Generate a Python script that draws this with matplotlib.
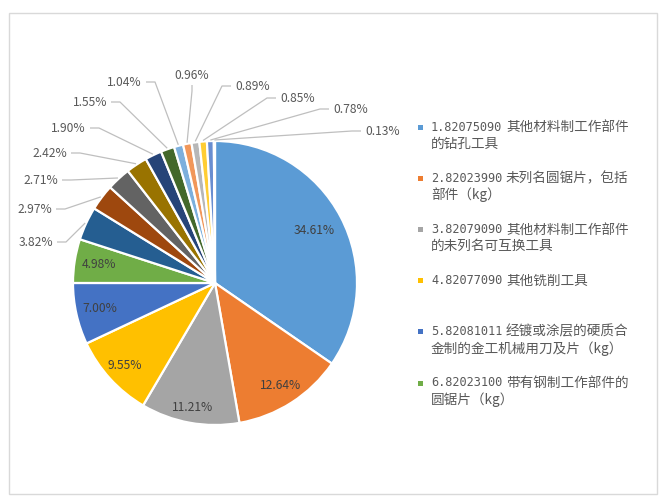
import matplotlib
matplotlib.use("Agg")
import matplotlib.pyplot as plt
import numpy as np
from matplotlib.patches import Rectangle

# ---------------- data ----------------
shares = [34.61, 12.64, 11.21, 9.55, 7.00, 4.98, 3.82, 2.97, 2.71, 2.42,
          1.90, 1.55, 1.04, 0.96, 0.89, 0.85, 0.78, 0.13]
pct_labels = [f"{v:.2f}%" for v in shares]
legend_labels = [
    "1.82075090 其他材料制工作部件\n的钻孔工具",
    "2.82023990 未列名圆锯片，包括\n部件（kg）",
    "3.82079090 其他材料制工作部件\n的未列名可互换工具",
    "4.82077090 其他铣削工具",
    "5.82081011 经镀或涂层的硬质合\n金制的金工机械用刀及片（kg）",
    "6.82023100 带有钢制工作部件的\n圆锯片（kg）",
]
colors = ["#5B9BD5", "#ED7D31", "#A5A5A5", "#FFC000", "#4472C4", "#70AD47",
          "#255E91", "#9E480E", "#636363", "#997300", "#264478", "#43682B",
          "#7CAFDD", "#F1975A", "#B7B7B7", "#FFCD33", "#698ED0", "#8CC168"]

# ---------------- layout (pixels, y from top) ----------------
W, H = 668, 501
CX, CY, R = 215, 283, 142
inside_r = [0.79, 0.86, 0.89, 0.86, 0.83, 0.83]
# anchor of outside labels: (x, y_from_top, side)
outside_pos = [(53, 242, "L"), (52, 209, "L"), (58, 180, "L"), (67, 153, "L"),
               (86, 128, "L"), (107, 102, "L"), (142, 82, "L"), (192, 75, "C"),
               (235, 86, "R"), (280, 98, "R"), (333, 109, "R"), (365, 131, "R")]

FONT = ["Noto Sans CJK SC", "DejaVu Sans"]
MONO = ["DejaVu Sans Mono", "Noto Sans CJK SC"]
TXT = "#595959"
LINE = "#BFBFBF"

fig = plt.figure(figsize=(6.68, 5.01), dpi=100)
fig.patch.set_facecolor("white")
ax = fig.add_axes([0, 0, 1, 1])

def Y(y):
    return H - y

wedges, _ = ax.pie(shares, colors=colors, startangle=90, counterclock=False,
                   center=(CX, Y(CY)), radius=R,
                   wedgeprops=dict(edgecolor="white", linewidth=1.6))
ax.set_xlim(0, W)
ax.set_ylim(0, H)
ax.set_aspect("equal")
ax.axis("off")

mids = [np.deg2rad((w.theta1 + w.theta2) / 2) for w in wedges]

# inside labels
for i, r in enumerate(inside_r):
    a = mids[i]
    ax.text(CX + r * R * np.cos(a), Y(CY) + r * R * np.sin(a), pct_labels[i],
            ha="center", va="center", fontsize=8.7, color="#404040", family=FONT)

# outside labels with leader lines
for k, (x, y, side) in enumerate(outside_pos):
    i = len(inside_r) + k
    a = mids[i]
    ex, ey = CX + (R + 1) * np.cos(a), Y(CY) + (R + 1) * np.sin(a)
    if side == "L":
        ax.text(x, Y(y), pct_labels[i], ha="right", va="center", fontsize=8.7,
                color=TXT, family=FONT)
        xs = [x + 4, x + 13, ex]
        ys = [Y(y), Y(y), ey]
    elif side == "R":
        ax.text(x, Y(y), pct_labels[i], ha="left", va="center", fontsize=8.7,
                color=TXT, family=FONT)
        xs = [x - 4, x - 13, ex]
        ys = [Y(y), Y(y), ey]
    else:
        ax.text(x, Y(y), pct_labels[i], ha="center", va="center", fontsize=8.7,
                color=TXT, family=FONT)
        xs = [x, x, ex]
        ys = [Y(y + 10), Y(y + 16), ey]
    ax.plot(xs, ys, color=LINE, lw=0.9, solid_capstyle="butt")

# legend
for j, lab in enumerate(legend_labels):
    y0 = 127 + j * 51.2
    ax.add_patch(Rectangle((417.5, Y(y0) - 2.5), 5, 5, color=colors[j], lw=0))
    lines = lab.split("\n")
    code, rest = lines[0].split(" ", 1)
    ax.text(431, Y(y0), code, ha="left", va="center",
            fontsize=8.6, color=TXT, family=MONO)
    ax.text(506, Y(y0), rest, ha="left", va="center",
            fontsize=9.8, color=TXT, family=FONT)
    for n, line in enumerate(lines[1:], start=1):
        ax.text(431, Y(y0 + n * 16.5), line, ha="left", va="center",
                fontsize=9.8, color=TXT, family=FONT)

# outer frame
ax.add_patch(Rectangle((9, Y(494)), 648, 481, fill=False, edgecolor="#D9D9D9", lw=1))

fig.savefig("out.png", dpi=100, facecolor="white")
